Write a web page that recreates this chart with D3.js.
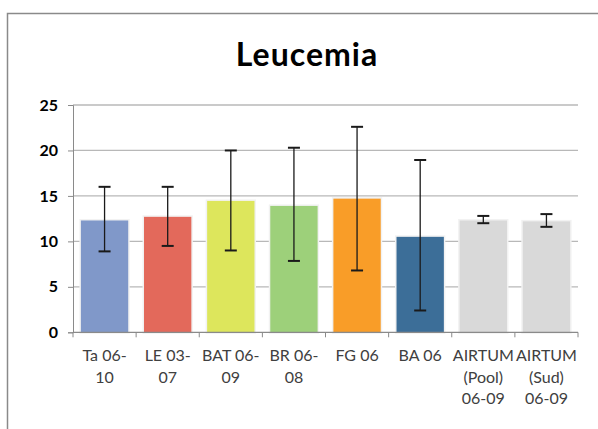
<!DOCTYPE html>
<html><head><meta charset="utf-8">
<script src="https://cdn.jsdelivr.net/npm/d3@7"></script>
<style>body{margin:0;background:#fff}svg{display:block}</style>
</head><body>
<script>
const categories = [["Ta 06-","10"],["LE 03-","07"],["BAT 06-","09"],["BR 06-","08"],["FG 06"],["BA 06"],["AIRTUM","(Pool)","06-09"],["AIRTUM","(Sud)","06-09"]];
const values = [12.3, 12.7, 14.45, 13.9, 14.7, 10.5, 12.3, 12.2];
const errLow = [8.9, 9.5, 9.0, 7.85, 6.8, 2.4, 12.0, 11.6];
const errHigh = [16.0, 16.0, 20.0, 20.3, 22.6, 18.95, 12.8, 13.0];
const colors = ["#8098c9","#e3695b","#dde65c","#9dd07a","#f99d28","#3c6e98","#d9d9d9","#d9d9d9"];
const yTicks = [0,5,10,15,20,25];

(function(){
const W=598,H=429;
const svg=d3.select("body").append("svg").attr("width",W).attr("height",H);
svg.append("rect").attr("width",W).attr("height",H).attr("fill","#fff");
svg.append("path").attr("d",`M7.5,${H}V13.5H${W}`).attr("fill","none").attr("stroke","#8a8a8a").attr("stroke-width",1.5);

svg.append("text").attr("x",307).attr("y",66).attr("text-anchor","middle")
  .attr("font-family","Lato, 'Open Sans', sans-serif").attr("font-weight","bold")
  .attr("font-size",32).attr("letter-spacing",1).attr("fill","#000").text("Leucemia");

const pl=73,pr=578,pt=105,pb=332.3;
const idx=d3.range(categories.length);
const x=d3.scaleBand().domain(idx).range([pl,pr]).paddingInner(0.25).paddingOuter(0.125);
const xb=d3.scaleBand().domain(idx).range([pl,pr]);
const y=d3.scaleLinear().domain([0,25]).range([pb,pt]);

svg.append("g").selectAll("line").data(yTicks.filter(d=>d>0)).join("line")
  .attr("x1",pl).attr("x2",pr).attr("y1",d=>y(d)).attr("y2",d=>y(d))
  .attr("stroke","#b8b8b8").attr("stroke-width",1.3);

svg.append("g").selectAll("rect").data(values).join("rect")
  .attr("x",(d,i)=>x(i)).attr("width",x.bandwidth())
  .attr("y",d=>y(d)).attr("height",d=>pb-y(d))
  .attr("fill",(d,i)=>colors[i]).attr("stroke","#f2f2f2").attr("stroke-width",3).attr("paint-order","stroke");

const ya=svg.append("g").attr("transform",`translate(${pl},0)`)
  .call(d3.axisLeft(y).tickValues(yTicks).tickSize(5).tickPadding(10));
ya.select(".domain").attr("stroke","#8a8a8a");
ya.selectAll(".tick line").attr("stroke","#8a8a8a");
ya.selectAll("text").attr("font-family","Lato, 'Open Sans', sans-serif").attr("font-weight","bold").attr("font-size",16).attr("fill","#000");

const xa=svg.append("g").attr("transform",`translate(0,${pb})`);
xa.append("line").attr("x1",pl).attr("x2",pr).attr("stroke","#8a8a8a").attr("stroke-width",1.3);
xa.selectAll("line.t").data(d3.range(categories.length+1)).join("line").attr("class","t")
  .attr("x1",d=>pl+d*xb.step()).attr("x2",d=>pl+d*xb.step()).attr("y1",0).attr("y2",5)
  .attr("stroke","#8a8a8a");
const lab=xa.selectAll("text").data(categories).join("text")
  .attr("text-anchor","middle").attr("font-family","Lato, 'Open Sans', sans-serif")
  .attr("font-size",16).attr("fill","#404040");
lab.each(function(d,i){
  d3.select(this).selectAll("tspan").data(d).join("tspan")
    .attr("x",xb(i)+xb.bandwidth()/2).attr("y",(t,j)=>29+j*21.5).text(t=>t);
});

const eb=svg.append("g").attr("stroke","#1a1a1a").attr("stroke-width",1.3);
idx.forEach(i=>{
  const cx=x(i)+x.bandwidth()/2;
  eb.append("line").attr("x1",cx).attr("x2",cx).attr("y1",y(errLow[i])).attr("y2",y(errHigh[i]));
  [errLow[i],errHigh[i]].forEach(v=>eb.append("line").attr("x1",cx-6).attr("x2",cx+6).attr("y1",y(v)).attr("y2",y(v)).attr("stroke-width",2));
});
})();
</script>
</body></html>
